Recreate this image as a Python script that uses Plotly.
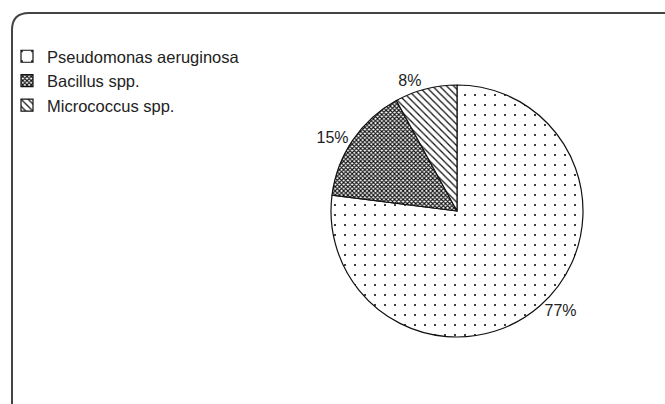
import plotly.graph_objects as go

# Share of isolates per genus
labels = ["Pseudomonas aeruginosa", "Bacillus spp.", "Micrococcus spp."]
values = [77, 15, 8]

W, H = 665, 404
cx, cy, r = 457, 211, 126  # pie centre and radius in pixels
FONT = "Liberation Sans, Arial, sans-serif"


def px(x):
    return x / W


def py(y):
    return 1 - y / H


fig = go.Figure(
    go.Pie(
        labels=labels,
        values=values,
        sort=False,
        direction="clockwise",
        rotation=0,
        textinfo="percent",
        texttemplate="%{percent:.0%}",
        textposition="outside",
        textfont=dict(family=FONT, size=16, color="#222"),
        marker=dict(
            colors=["white", "white", "white"],
            line=dict(color="#111", width=1.2),
            pattern=dict(
                shape=[".", "x", "\\"],
                size=[10, 3, 5],
                solidity=[0.035, 0.6, 0.25],
                fgcolor="#111",
                bgcolor="white",
                fillmode="replace",
            ),
        ),
        domain=dict(x=[px(cx - r), px(cx + r)], y=[py(cy + r), py(cy - r)]),
        hoverinfo="label+percent",
    )
)

# Rounded frame around the chart area
fig.add_shape(
    type="path",
    xref="paper",
    yref="paper",
    path=(
        f"M {px(12)},{py(410)} L {px(12)},{py(30)} "
        f"Q {px(12)},{py(13)} {px(29)},{py(13)} L {px(670)},{py(13)}"
    ),
    line=dict(color="#444", width=2),
)

fig.update_layout(
    width=W,
    height=H,
    margin=dict(l=0, r=0, t=0, b=0),
    paper_bgcolor="white",
    plot_bgcolor="white",
    showlegend=True,
    legend=dict(
        x=px(7),
        y=py(39),
        xanchor="left",
        yanchor="top",
        font=dict(family=FONT, size=16.5, color="#222"),
        bgcolor="rgba(0,0,0,0)",
        itemwidth=30,
    ),
)

fig.write_html("out.html")
